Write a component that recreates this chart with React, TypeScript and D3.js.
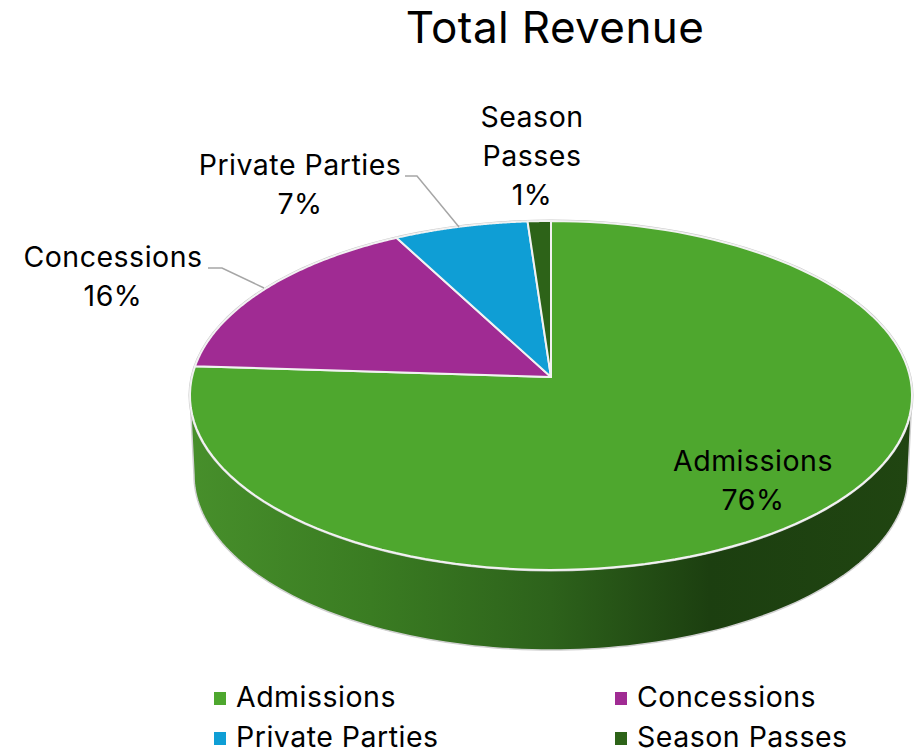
import React from "react";
import * as d3 from "d3";

const categories = ["Admissions", "Concessions", "Private Parties", "Season Passes"];
const shares = [76.0, 16.2, 6.65, 1.15];
const percentLabels = ["76%", "16%", "7%", "1%"];
const colors = ["#4ea72e", "#a02b93", "#0f9ed5", "#2d6318"];
const FONT = "Inter, 'Noto Sans', sans-serif";

const W = 915, H = 751;
const cx = 551, tilt = 0.106;
const topFace = { y0: 377, a: 359, b: 172.5 };
const baseFace = { y0: 456.5, a: 355, b: 173 };

type Face = typeof topFace;
const project = (f: Face, t: number): [number, number] => {
  const u = Math.sin(t), v = -Math.cos(t), w = 1 - tilt * v;
  return [cx + (f.a * u) / w, f.y0 + (f.b * v) / w];
};
const samples = (t0: number, t1: number) => d3.range(0, 121).map((i) => t0 + ((t1 - t0) * i) / 120);
const line = d3.line();

const arcs = d3.pie<number>().sort(null)(shares);
const rad = (deg: number) => (deg * Math.PI) / 180;

const slicePath = (t0: number, t1: number) =>
  line([[cx, topFace.y0], ...samples(t0, t1).map((t) => project(topFace, t))])! + "Z";

const wall = [
  ...samples(rad(96), rad(264)).map((t) => project(topFace, t)),
  ...samples(rad(264), rad(96)).map((t) => project(baseFace, t)),
];
const rim = line(samples(0, 2 * Math.PI).map((t) => project(topFace, t)))! + "Z";

const dataLabels = [
  { lines: ["Admissions", percentLabels[0]], x: 753, y: 471 },
  { lines: ["Concessions", percentLabels[1]], x: 113, y: 267 },
  { lines: ["Private Parties", percentLabels[2]], x: 300, y: 175 },
  { lines: ["Season", "Passes", percentLabels[3]], x: 532, y: 127 },
];
const leaders: [number, number][][] = [
  [[208, 268], [222, 268], [264, 288]],
  [[405, 176], [417, 176], [459, 227]],
];
const legendPos = [
  { x: 214, y: 692 },
  { x: 615, y: 692 },
  { x: 214, y: 732 },
  { x: 615, y: 732 },
];

export default function App() {
  return (
    <svg width={W} height={H} viewBox={`0 0 ${W} ${H}`} style={{ position: "absolute", left: 0, top: 0, display: "block", background: "#fff" }} fontFamily={FONT}>
      <defs>
        <linearGradient id="wallGrad" gradientUnits="userSpaceOnUse" x1={190} x2={912} y1={0} y2={0}>
          <stop offset="0" stopColor="#478f2b" />
          <stop offset="0.25" stopColor="#3a7c22" />
          <stop offset="0.5" stopColor="#2d621b" />
          <stop offset="0.72" stopColor="#1c3f10" />
          <stop offset="1" stopColor="#204511" />
        </linearGradient>
      </defs>
      <text x={555} y={43} textAnchor="middle" fontSize={44} letterSpacing={0.4} fill="#000">Total Revenue</text>

      <path d={line(wall)! + "Z"} fill="url(#wallGrad)" stroke="#d0d0d0" strokeWidth={1.5} />
      <path d={rim} fill="none" stroke="#c8c8c8" strokeWidth={3} />
      {arcs.map((d, i) => (
        <path key={i} d={slicePath(d.startAngle, d.endAngle)} fill={colors[i]} stroke="#f2f2f2" strokeWidth={2} strokeLinejoin="round" />
      ))}

      {leaders.map((pts, i) => (
        <path key={i} d={line(pts)!} fill="none" stroke="#a6a6a6" strokeWidth={1.5} />
      ))}
      {dataLabels.map((l, i) => (
        <text key={i} textAnchor="middle" fontSize={28.5} letterSpacing={0.5} fill="#000">
          {l.lines.map((s, j) => (
            <tspan key={j} x={l.x} y={l.y + j * 39}>{s}</tspan>
          ))}
        </text>
      ))}

      {categories.map((c, i) => (
        <g key={c}>
          <rect x={legendPos[i].x} y={legendPos[i].y} width={12} height={13} fill={colors[i]} />
          <text x={legendPos[i].x + 22} y={legendPos[i].y + 14.5} fontSize={28.5} letterSpacing={0.5} fill="#000">{c}</text>
        </g>
      ))}
    </svg>
  );
}
